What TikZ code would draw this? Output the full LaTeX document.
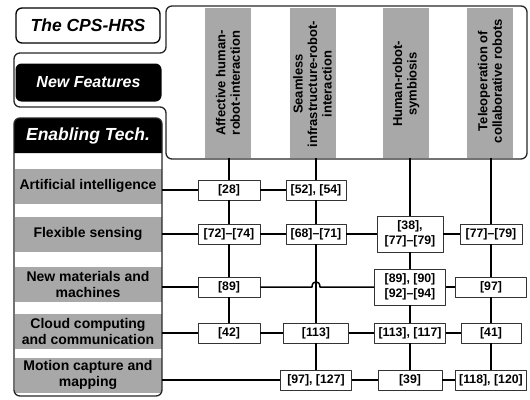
\documentclass[tikz,border=0pt]{standalone}
\usepackage{fontspec}
\setmainfont{Liberation Sans}
\usetikzlibrary{positioning,calc}
\definecolor{bandgray}{gray}{0.66}
\tikzset{
  frame/.style={line width=1.3pt, draw=black!85, rounded corners=6pt},
  strip/.style={fill=bandgray, minimum width=46pt, minimum height=150pt, inner sep=0pt},
  headtext/.style={rotate=90, align=center, font=\fontsize{13}{14.5}\selectfont\bfseries},
  rowband/.style={fill=bandgray, minimum width=147pt, minimum height=35pt, inner sep=0pt, align=center,
    font=\fontsize{14}{16}\selectfont\bfseries},
  titlebox/.style={rounded corners=6pt, inner sep=0pt, font=\fontsize{17.5}{19}\selectfont\bfseries\itshape},
  refbox/.style={draw=black!80, fill=white, line width=0.8pt, minimum height=20pt, inner sep=1pt,
    align=center, font=\fontsize{12.3}{15}\selectfont\bfseries},
  link/.style={line width=1.5pt}
}
% #1 options, #2 name, #3 position, #4 text
\newcommand \refnode[4][minimum width=62pt]
{
\node[refbox, #1] (#2) at (#3) {#4};
}

\begin{document}
\begin{tikzpicture}[x=1pt, y=-1pt, line join=round]
\useasboundingbox (0,0) rectangle (530,399);
% header frame with the tab of the new features
\draw[frame] (14,53) -- (14,107) -- (166,107) -- (166,159) -- (527,159) -- (527,6) -- (166,6) -- (166,53) -- cycle;
\node[titlebox, draw, line width=1.3pt, minimum width=144pt, minimum height=35pt] (cps) at (88,25.5) {The CPS-HRS};
\node[titlebox, fill=black, text=white, minimum width=146pt, minimum height=38pt,
  font=\fontsize{16}{18}\selectfont\bfseries\itshape] (nf) at (88.5,82.5) {New Features};
% the four new features
\node[strip] (f1) at (228,82.5) {};
\node[strip] (f2) at (312.5,82.5) {};
\node[strip] (f3) at (406,82.5) {};
\node[strip] (f4) at (490,82.5) {};
\node[headtext] (t1) at (228,83) {Affective human-\\robot-interaction};
\node[headtext] (t2) at (312.5,84) {Seamless\\infrastructure-robot-\\interaction};
\node[headtext] (t3) at (406,84) {Human-robot-\\symbiosis};
\node[headtext] (t4) at (490,81) {Teleoperation of\\collaborative robots};
% enabling technologies
\node[rowband] (r1) at (88,186) {Artificial intelligence};
\node[rowband] (r2) at (88,234) {Flexible sensing};
\node[rowband] (r3) at (88,284) {New materials and\\machines};
\node[rowband] (r4) at (88,331) {Cloud computing\\and communication};
\node[rowband] (r5) at (88,375) {Motion capture and\\mapping};
\fill[black] (14,153) [rounded corners=6pt] -- (14,118) -- (162,118) [sharp corners] -- (162,153) -- cycle;
\node[titlebox, text=white] (et) at (88,135.5) {Enabling Tech.};
\draw[frame] (14,118) rectangle (162,396);
% references
\refnode{a1}{229,190}{[28]}
\refnode{a2}{229,234}{[72]–[74]}
\refnode{a3}{229,287}{[89]}
\refnode{a4}{229,333}{[42]}
\refnode[minimum width=60pt]{b1}{316,190}{[52], [54]}
\refnode[minimum width=60pt]{b2}{316,234}{[68]–[71]}
\refnode[minimum width=65pt]{b4}{316,333}{[113]}
\refnode[minimum width=71pt]{b5}{316,380}{[97], [127]}
\refnode[minimum width=66pt, minimum height=36pt]{c2}{410,234}{[38],\\{}[77]–[79]}
\refnode[minimum width=71pt, minimum height=36pt]{c3}{410,287}{[89], [90]\\{}[92]–[94]}
\refnode[minimum width=71pt]{c4}{410,333}{[113], [117]}
\refnode[minimum width=64pt]{c5}{410,380}{[39]}
\refnode{d2}{491,234}{[77]–[79]}
\refnode[minimum width=71pt]{d3}{491,287}{[97]}
\refnode[minimum width=60pt]{d4}{491,333}{[41]}
\refnode[minimum width=71pt]{d5}{491,380}{[118], [120]}
% columns
\draw[link] (a1 |- f1.south) -- (a1) -- (a2) -- (a3) -- (a4);
\draw[link] (b1 |- f2.south) -- (b1) -- (b2) -- (b4) -- (b5);
\draw[link] (c2 |- f3.south) -- (c2) -- (c3) -- (c4) -- (c5);
\draw[link] (d2 |- f4.south) -- (d2) -- (d3) -- (d4) -- (d5);
% rows
\draw[link] (r1.east |- a1) -- (a1) -- (b1);
\draw[link] (r2.east |- a2) -- (a2) -- (b2) -- (c2) -- (d2);
\draw[link] (r3.east |- a3) -- (a3);
\draw[link] (a3.east) -- ($(b2 |- a3)+(-4,0)$) .. controls +(0,-7) and +(0,-7) .. ($(b2 |- a3)+(4,0)$) -- (c3.west);
\draw[link] (c3) -- (d3);
\draw[link] (r4.east |- a4) -- (a4) -- (b4) -- (c4) -- (d4);
\draw[link] (r5.east |- b5) -- (b5) -- (c5) -- (d5);
\end{tikzpicture}
\end{document}
